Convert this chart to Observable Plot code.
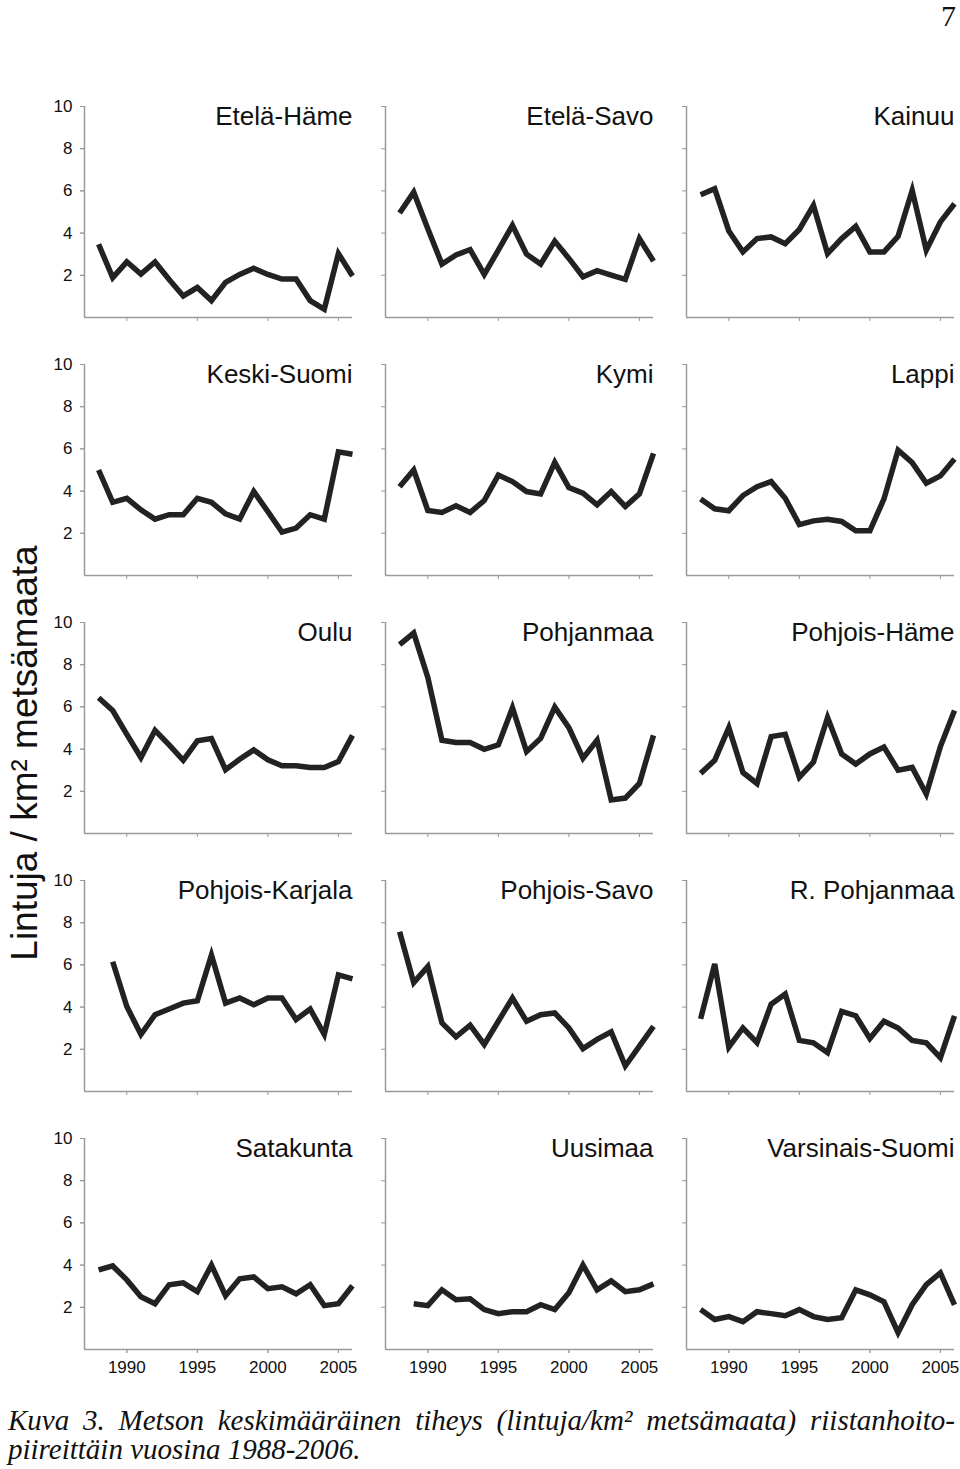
<!DOCTYPE html>
<html>
<head>
<meta charset="utf-8">
<script src="https://cdn.jsdelivr.net/npm/d3@7"></script>
<script src="https://cdn.jsdelivr.net/npm/@observablehq/plot@0.6"></script>
<style>
  body { margin: 0; background: #fff; }
  #wrap { position: relative; width: 960px; height: 1469px; overflow: hidden; }
  #chart { position: absolute; left: 0; top: 0; }
  #pagenum { position: absolute; right: 4px; top: 1px; font: 30px/30px "Liberation Serif", serif; color: #111; }
  #ylab { position: absolute; left: 25px; top: 753px; transform: translate(-50%, -50%) rotate(-90deg);
          white-space: nowrap; font: 37px "Liberation Sans", Arial, sans-serif; color: #111; }
  #caption { position: absolute; left: 8px; top: 1406px; width: 947px; font: italic 29px/29px "Liberation Serif", serif; color: #111; }
  #caption .l1 { text-align: justify; text-align-last: justify; white-space: nowrap; }
  #caption .l2 { white-space: nowrap; }
</style>
</head>
<body>
<div id="wrap">
  <div id="chart"></div>
  <div id="pagenum">7</div>
  <div id="ylab">Lintuja / km² metsämaata</div>
  <div id="caption"><div class="l1">Kuva 3. Metson keskimääräinen tiheys (lintuja/km² metsämaata) riistanhoito-</div><div class="l2">piireittäin vuosina 1988-2006.</div></div>
</div>
<script>
const years = [1988,1989,1990,1991,1992,1993,1994,1995,1996,1997,1998,1999,2000,2001,2002,2003,2004,2005,2006];
const yearsFrom1989 = years.slice(1);

const regionNames = ["Etelä-Häme","Etelä-Savo","Kainuu","Keski-Suomi","Kymi","Lappi","Oulu","Pohjanmaa","Pohjois-Häme","Pohjois-Karjala","Pohjois-Savo","R. Pohjanmaa","Satakunta","Uusimaa","Varsinais-Suomi"];

const etelaHame     = [3.47,1.89,2.64,2.06,2.63,1.80,1.02,1.42,0.80,1.67,2.04,2.33,2.04,1.82,1.82,0.80,0.39,3.03,1.97];
const etelaSavo     = [4.95,5.94,4.21,2.53,2.96,3.22,2.04,3.19,4.37,3.00,2.53,3.62,2.80,1.93,2.22,2.01,1.81,3.74,2.67];
const kainuu        = [5.82,6.10,4.10,3.11,3.74,3.82,3.50,4.17,5.31,3.03,3.74,4.32,3.11,3.11,3.85,6.02,3.19,4.53,5.39];
const keskiSuomi    = [5.00,3.47,3.66,3.11,2.67,2.88,2.88,3.66,3.47,2.92,2.67,3.98,3.03,2.06,2.25,2.88,2.67,5.86,5.75];
const kymi          = [4.21,5.00,3.08,2.99,3.30,2.99,3.55,4.76,4.45,3.98,3.87,5.36,4.17,3.90,3.35,3.98,3.27,3.87,5.79];
const lappi         = [3.63,3.16,3.07,3.79,4.21,4.45,3.66,2.41,2.59,2.67,2.56,2.12,2.12,3.63,5.94,5.35,4.37,4.72,5.52];
const oulu          = [6.43,5.83,4.70,3.60,4.89,4.20,3.47,4.39,4.50,3.02,3.52,3.96,3.49,3.21,3.21,3.13,3.13,3.41,4.65];
const pohjanmaa     = [8.95,9.50,7.40,4.42,4.31,4.31,3.99,4.20,5.96,3.88,4.51,5.99,5.02,3.57,4.42,1.59,1.68,2.37,4.65];
const pohjoisHame   = [2.85,3.47,5.02,2.89,2.37,4.59,4.70,2.67,3.38,5.50,3.77,3.29,3.77,4.10,3.00,3.13,1.87,4.12,5.83];
const pohjoisKarjala= [6.15,4.03,2.70,3.64,3.91,4.19,4.30,6.47,4.19,4.43,4.11,4.43,4.43,3.41,3.91,2.70,5.53,5.34]; // 1989-2006
const pohjoisSavo   = [7.57,5.16,5.92,3.25,2.59,3.14,2.23,3.33,4.43,3.33,3.64,3.72,3.01,2.03,2.47,2.83,1.21,2.15,3.09];
const rPohjanmaa    = [3.44,6.04,2.10,3.01,2.31,4.14,4.62,2.42,2.31,1.84,3.80,3.59,2.51,3.33,3.01,2.42,2.31,1.60,3.59];
const satakunta     = [3.77,3.96,3.30,2.50,2.17,3.07,3.16,2.74,4.00,2.55,3.35,3.44,2.88,2.97,2.64,3.07,2.08,2.17,3.02];
const uusimaa       = [2.17,2.08,2.83,2.36,2.40,1.89,1.70,1.79,1.79,2.12,1.89,2.69,4.00,2.83,3.25,2.74,2.83,3.11]; // 1989-2006
const varsinaisSuomi= [1.89,1.42,1.56,1.32,1.79,1.70,1.60,1.89,1.56,1.42,1.51,2.83,2.59,2.26,0.80,2.12,3.07,3.63,2.12];

const seriesValues = [etelaHame, etelaSavo, kainuu, keskiSuomi, kymi, lappi, oulu, pohjanmaa, pohjoisHame,
                      pohjoisKarjala, pohjoisSavo, rPohjanmaa, satakunta, uusimaa, varsinaisSuomi];

const yTicks = [2, 4, 6, 8, 10];
const xTicks = [1990, 1995, 2000, 2005];

// long table
const rows = [];
const panels = [];
regionNames.forEach((name, i) => {
  const vals = seriesValues[i];
  const yrs = vals.length === years.length ? years : yearsFrom1989;
  const col = i % 3, row = Math.floor(i / 3);
  panels.push({name, col, row});
  vals.forEach((v, j) => rows.push({name, col, row, year: yrs[j], value: v}));
});

const axisColor = "#9a9a9a";

const chart = Plot.plot({
  width: 960,
  height: 1392,
  marginLeft: 84,
  marginRight: 6,
  marginTop: 104,
  marginBottom: 40,
  style: { fontFamily: "'Liberation Sans', Arial, sans-serif", color: "#111", background: "#fff" },
  fx: { domain: [0, 1, 2], axis: null, paddingInner: 0.11, paddingOuter: 0 },
  fy: { domain: [0, 1, 2, 3, 4], axis: null, paddingInner: 0.181, paddingOuter: 0 },
  x: { domain: [1987, 2006] },
  y: { domain: [0, 10] },
  marks: [
    Plot.ruleY([0], { stroke: axisColor, strokeWidth: 1.5 }),
    Plot.ruleX([1987], { stroke: axisColor, strokeWidth: 1.5 }),
    Plot.axisY({ ticks: yTicks, tickSize: 4, tickFormat: () => "", label: null, facetAnchor: null, stroke: axisColor }),
    Plot.axisY({ ticks: yTicks, tickSize: 4, tickPadding: 8, fontSize: 17, label: null, stroke: axisColor }),
    Plot.axisX({ ticks: xTicks, tickSize: 4, tickFormat: () => "", label: null, facetAnchor: null, stroke: axisColor }),
    Plot.axisX({ ticks: xTicks, tickSize: 4, tickPadding: 7, fontSize: 17, tickFormat: d => String(d), label: null, stroke: axisColor }),
    Plot.line(rows, { x: "year", y: "value", fx: "col", fy: "row", z: "name",
      stroke: "#222", strokeWidth: 5.5, strokeLinejoin: "miter", strokeLinecap: "butt", strokeMiterlimit: 4 }),
    Plot.text(panels, { fx: "col", fy: "row", text: "name", frameAnchor: "top-right",
      fontSize: 26, fill: "#111", dy: 0 })
  ]
});
document.getElementById("chart").appendChild(chart);
</script>
</body>
</html>
